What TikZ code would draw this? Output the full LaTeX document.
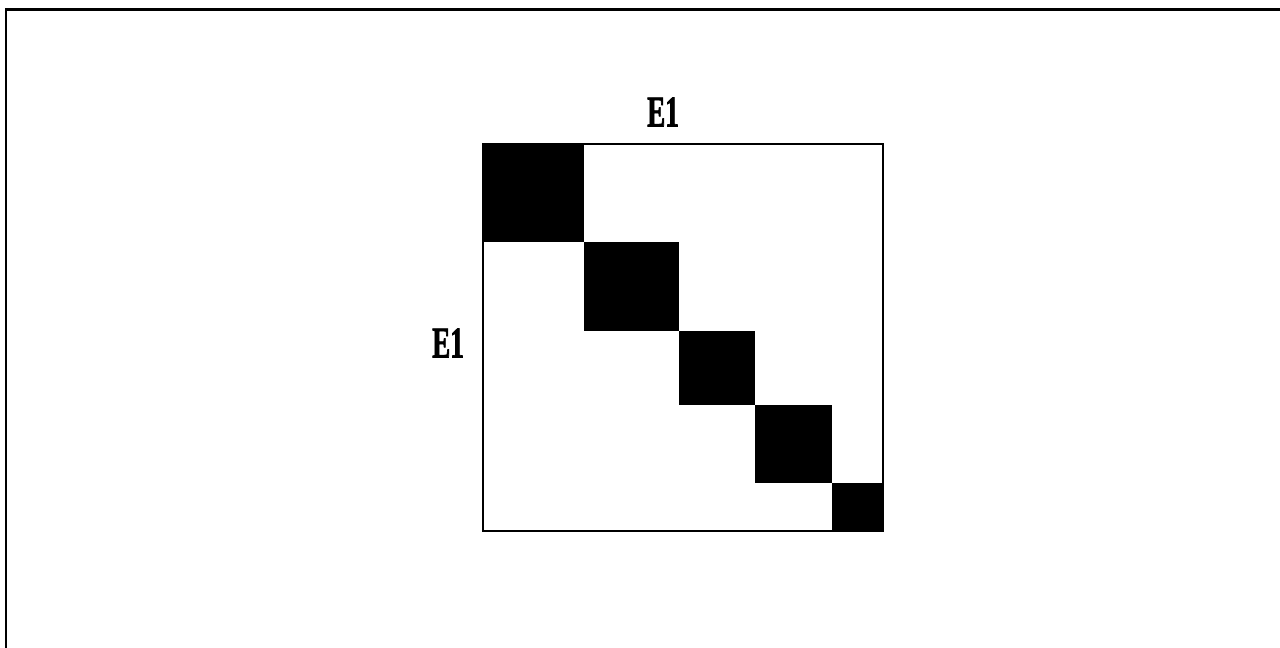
\documentclass[tikz,border=0pt]{standalone}
\usepackage{fontspec}
\setmainfont{Liberation Serif}
\newfontfamily\labfont[FakeStretch=0.62,FakeBold=1.5]{Liberation Serif Bold}
\begin{document}
\begin{tikzpicture}[x=0.02cm,y=-0.02cm]
\useasboundingbox (0,0) rectangle (1280,648);

% --- frame (only top and left edges show) ---
\draw[line width=1.7pt] (6,648) -- (6,9.5) -- (1280,9.5);

% --- block diagonal matrix ---
\draw[line width=1.2pt] (483,144) rectangle (883,531);
\foreach \xa/\ya/\xb/\yb in {483/144/584/242,584/242/679/331,679/331/755/405,755/405/832/483,832/483/883/531}
  \fill[black] (\xa,\ya) rectangle (\xb,\yb);
\node[font=\labfont\fontsize{25}{25}\selectfont, inner sep=0pt] (e-top) at (663,112) {E1};
\node[font=\labfont\fontsize{25}{25}\selectfont, inner sep=0pt] (e-left) at (448,343) {E1};
\end{tikzpicture}
\end{document}
